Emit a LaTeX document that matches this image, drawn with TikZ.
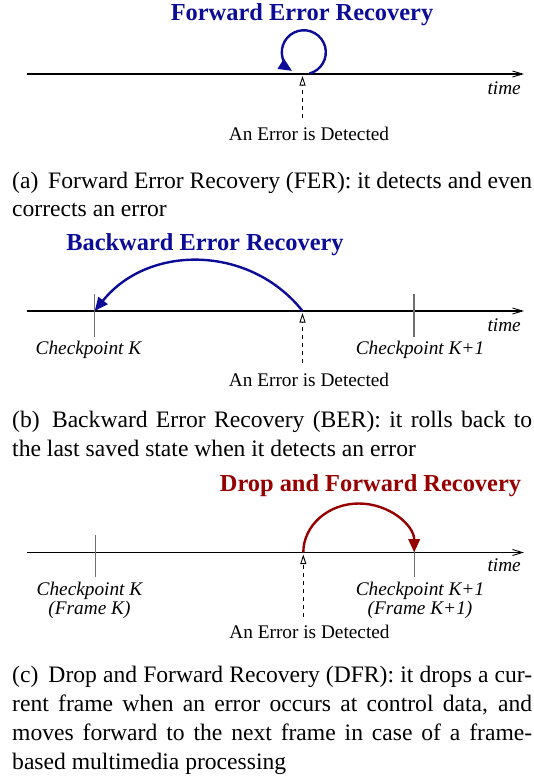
\documentclass[tikz,border=0pt]{standalone}
\usepackage{fontspec}
\setmainfont{Liberation Serif}
\usetikzlibrary{arrows.meta}
\definecolor{ferblue}{RGB}{12,12,150}
\definecolor{dfrred}{RGB}{150,0,0}
\definecolor{tickgray}{RGB}{110,110,110}

\begin{document}
\begin{tikzpicture}[x=1pt,y=-1pt,
  axis/.style={line width=1.1pt, -{Straight Barb[length=10pt,width=6pt,line width=0.9pt]}},
  tickline/.style={line width=1.4pt, draw=tickgray},
  errline/.style={line width=0.9pt, dash pattern=on 4pt off 4pt,
    -{Triangle[open,fill=white,length=9.5pt,width=6pt,line width=0.9pt]}},
  titletext/.style={font=\fontsize{24.4}{28}\selectfont\bfseries, anchor=base, inner sep=0pt},
  lbl/.style={font=\fontsize{19.3}{20}\selectfont\itshape, anchor=base, inner sep=0pt},
  errtxt/.style={font=\fontsize{19.3}{20}\selectfont, anchor=base, inner sep=0pt},
  captext/.style={font=\fontsize{23.6}{28.5}\selectfont, anchor=base west, inner sep=0pt},
  bluearc/.style={draw=ferblue, line width=2.4pt, -{Triangle[length=13.5pt,width=11.5pt]}},
  redarc/.style={draw=dfrred, line width=2.4pt, -{Triangle[length=13.5pt,width=11.5pt]}},
]
\useasboundingbox (0,0) rectangle (534,777);

% ---------- (a) Forward Error Recovery ----------
\node[titletext, text=ferblue] (titleA) at (302,20) {Forward Error Recovery};
\coordinate (axAs) at (27,74);
\coordinate (axAe) at (524,74);
\draw[axis] (axAs) -- (axAe);
\node[lbl, anchor=base east] (timeA) at (521,94) {time};
\coordinate (loopA) at (309.5,73.5);
\draw[bluearc] (loopA) arc[start angle=-75, end angle=238, radius=22pt];
\coordinate (errAtip) at (302.5,76);
\coordinate (errAbot) at (302.5,118);
\draw[errline] (errAbot) -- (errAtip);
\node[errtxt] (detA) at (309,140) {An Error is Detected};
\node[captext] (capA1) at (12,188)
  {\makebox[520pt][s]{(a)\hspace{4pt} Forward Error Recovery (FER): it detects and even}};
\node[captext] (capA2) at (12,216) {corrects an error};

% ---------- (b) Backward Error Recovery ----------
\node[titletext, text=ferblue] (titleB) at (205,250) {Backward Error Recovery};
\coordinate (axBs) at (27,311);
\coordinate (axBe) at (524,311);
\draw[axis] (axBs) -- (axBe);
\node[lbl, anchor=base east] (timeB) at (521,331) {time};
\coordinate (ckBt) at (94.7,294);
\coordinate (ckBb) at (94.7,337);
\coordinate (ckB) at (94.7,311);
\coordinate (ckB1t) at (414,294);
\coordinate (ckB1b) at (414,337);
\draw[tickline] (ckBt) -- (ckBb);
\draw[tickline] (ckB1t) -- (ckB1b);
\node[lbl] (ckBlbl) at (88.5,354.5) {Checkpoint K};
\node[lbl] (ckB1lbl) at (420,354.5) {Checkpoint K+1};
\coordinate (errB) at (302.5,311);
\draw[bluearc] (errB) .. controls (249.6,244.3) and (147.9,244.3) .. (ckB);
\coordinate (errBtip) at (302.5,313);
\coordinate (errBbot) at (302.5,363);
\draw[errline] (errBbot) -- (errBtip);
\node[errtxt] (detB) at (309,386) {An Error is Detected};
\node[captext] (capB1) at (12,427.5)
  {\makebox[520pt][s]{(b)\hspace{4pt} Backward Error Recovery (BER): it rolls back to}};
\node[captext] (capB2) at (12,456.5) {the last saved state when it detects an error};

% ---------- (c) Drop and Forward Recovery ----------
\node[titletext, text=dfrred] (titleC) at (370.5,491) {Drop and Forward Recovery};
\coordinate (axCs) at (27,552.5);
\coordinate (axCe) at (524,552.5);
\draw[axis] (axCs) -- (axCe);
\node[lbl, anchor=base east] (timeC) at (521,571) {time};
\coordinate (ckCt) at (95.6,534.5);
\coordinate (ckCb) at (95.6,577);
\coordinate (ckC1t) at (414.2,534.5);
\coordinate (ckC1b) at (414.2,577);
\coordinate (ckC1) at (414.2,552.5);
\draw[tickline] (ckCt) -- (ckCb);
\draw[tickline] (ckC1t) -- (ckC1b);
\node[lbl] (ckClbl) at (89.5,595) {Checkpoint K};
\node[lbl] (ckCflbl) at (89.5,614) {(Frame K)};
\node[lbl] (ckC1lbl) at (420,595) {Checkpoint K+1};
\node[lbl] (ckC1flbl) at (420,614) {(Frame K+1)};
\coordinate (errC) at (303.3,552.5);
\coordinate (topC) at (358.8,503.5);
\draw[redarc] (errC) .. controls (303.3,525.4) and (328.2,503.5) .. (topC)
  .. controls (389.4,503.5) and (414.2,525.4) .. (ckC1);
\coordinate (errCtip) at (303.3,554.5);
\coordinate (errCbot) at (303.3,617);
\draw[errline] (errCbot) -- (errCtip);
\node[errtxt] (detC) at (309.5,638.5) {An Error is Detected};
\node[captext] (capC1) at (12,682.5)
  {\makebox[520pt][s]{(c)\hspace{4pt} Drop and Forward Recovery (DFR): it drops a cur-}};
\node[captext] (capC2) at (12,711.5)
  {\makebox[520pt][s]{rent frame when an error occurs at control data, and}};
\node[captext] (capC3) at (12,740.5)
  {\makebox[520pt][s]{moves forward to the next frame in case of a frame-}};
\node[captext] (capC4) at (12,769.5) {based multimedia processing};
\end{tikzpicture}
\end{document}
